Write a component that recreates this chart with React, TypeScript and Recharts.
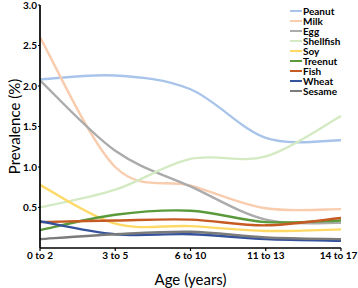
import React from 'react';
import { LineChart, Line, XAxis, YAxis, Label } from 'recharts';

const categories = ['0 to 2', '3 to 5', '6 to 10', '11 to 13', '14 to 17'];
const yTicks = [0.5, 1.0, 1.5, 2.0, 2.5, 3.0];

const peanut = [2.08, 2.13, 1.96, 1.36, 1.33];
const milk = [2.6, 1.0, 0.77, 0.49, 0.48];
const egg = [2.07, 1.2, 0.76, 0.35, 0.31];
const shellfish = [0.5, 0.72, 1.1, 1.13, 1.63];
const soy = [0.78, 0.3, 0.27, 0.21, 0.23];
const treenut = [0.22, 0.41, 0.46, 0.32, 0.34];
const fish = [0.32, 0.34, 0.35, 0.28, 0.37];
const wheat = [0.33, 0.17, 0.17, 0.11, 0.09];
const sesame = [0.11, 0.17, 0.2, 0.13, 0.11];

const series = [
  { key: 'Peanut', values: peanut, color: '#a9c4ea' },
  { key: 'Milk', values: milk, color: '#f9ccad' },
  { key: 'Egg', values: egg, color: '#ababab' },
  { key: 'Shellfish', values: shellfish, color: '#d3eac2' },
  { key: 'Soy', values: soy, color: '#ffd966' },
  { key: 'Treenut', values: treenut, color: '#5a9a3a' },
  { key: 'Fish', values: fish, color: '#c55a22' },
  { key: 'Wheat', values: wheat, color: '#34539c' },
  { key: 'Sesame', values: sesame, color: '#7b7b7b' },
];

const data = categories.map((c, i) => {
  const row: any = { cat: c };
  series.forEach((s) => (row[s.key] = s.values[i]));
  return row;
});

// Excel-like smoothed line (Catmull-Rom spline)
function smoothCurve(context: any) {
  let pts: [number, number][] = [];
  return {
    areaStart() {},
    areaEnd() {},
    lineStart() {
      pts = [];
    },
    point(x: number, y: number) {
      pts.push([+x, +y]);
    },
    lineEnd() {
      const n = pts.length;
      if (!n) return;
      context.moveTo(pts[0][0], pts[0][1]);
      for (let i = 0; i < n - 1; i++) {
        const p0 = pts[i - 1] || pts[i];
        const p1 = pts[i];
        const p2 = pts[i + 1];
        const p3 = pts[i + 2] || pts[i + 1];
        context.bezierCurveTo(
          p1[0] + (p2[0] - p0[0]) / 6,
          p1[1] + (p2[1] - p0[1]) / 6,
          p2[0] - (p3[0] - p1[0]) / 6,
          p2[1] - (p3[1] - p1[1]) / 6,
          p2[0],
          p2[1]
        );
      }
    },
  };
}

const FONT = 'Lato, "Open Sans", sans-serif';
const tickStyle = { fontFamily: FONT, fontSize: 10, fontWeight: 700, fill: '#000' };

const XTick = (props: any) => {
  const { x, y, payload, index } = props;
  const last = index === categories.length - 1;
  return (
    <text
      x={last ? x - 2.5 : x}
      y={y}
      dy="0.71em"
      textAnchor="middle"
      style={tickStyle}
    >
      {payload.value}
    </text>
  );
};

export default function App() {
  return (
    <div style={{ position: 'absolute', left: 0, top: 0, width: 358, height: 288, background: '#fff' }}>
      <LineChart width={358} height={288} data={data} margin={{ top: 5, right: 17, left: 0, bottom: 0 }}>
        <XAxis
          dataKey="cat"
          height={40}
          tick={<XTick />}
          tickSize={3}
          tickMargin={1}
          axisLine={{ stroke: '#000', strokeWidth: 1.7 }}
          tickLine={{ stroke: '#000', strokeWidth: 1.2 }}
          interval={0}
        >
          <Label
            value="Age (years)"
            position="insideBottom"
            offset={3}
            style={{ fontFamily: FONT, fontSize: 15, fill: '#000' }}
          />
        </XAxis>
        <YAxis
          width={40}
          domain={[0, 3]}
          ticks={yTicks}
          tickFormatter={(v: number) => v.toFixed(1)}
          tick={tickStyle}
          tickSize={2}
          tickMargin={1}
          axisLine={{ stroke: '#000', strokeWidth: 1.7 }}
          tickLine={{ stroke: '#000', strokeWidth: 1.2 }}
          allowDataOverflow
        >
          <Label
            content={(props: any) => {
              const vb = props.viewBox || { x: 0, y: 5, width: 40, height: 243 };
              const cx = vb.x + 13.5;
              const cy = vb.y + vb.height / 2;
              return (
                <text
                  x={cx}
                  y={cy}
                  transform={`rotate(-90, ${cx}, ${cy})`}
                  textAnchor="middle"
                  dominantBaseline="central"
                  style={{ fontFamily: FONT, fontSize: 15, fill: '#000' }}
                >
                  Prevalence (%)
                </text>
              );
            }}
          />
        </YAxis>
        {series.map((s) => (
          <Line
            key={s.key}
            dataKey={s.key}
            type={smoothCurve as any}
            stroke={s.color}
            strokeWidth={2.4}
            dot={false}
            activeDot={false}
            isAnimationActive={false}
          />
        ))}
      </LineChart>
      <div
        style={{
          position: 'absolute',
          left: 290,
          top: 6,
          fontFamily: FONT,
          fontSize: 10,
          fontWeight: 700,
          lineHeight: '10px',
          color: '#000',
        }}
      >
        {series.map((s) => (
          <div key={s.key} style={{ display: 'flex', alignItems: 'center', height: 10 }}>
            <span style={{ display: 'inline-block', width: 12, height: 2.5, background: s.color, marginRight: 1 }} />
            <span>{s.key}</span>
          </div>
        ))}
      </div>
    </div>
  );
}
